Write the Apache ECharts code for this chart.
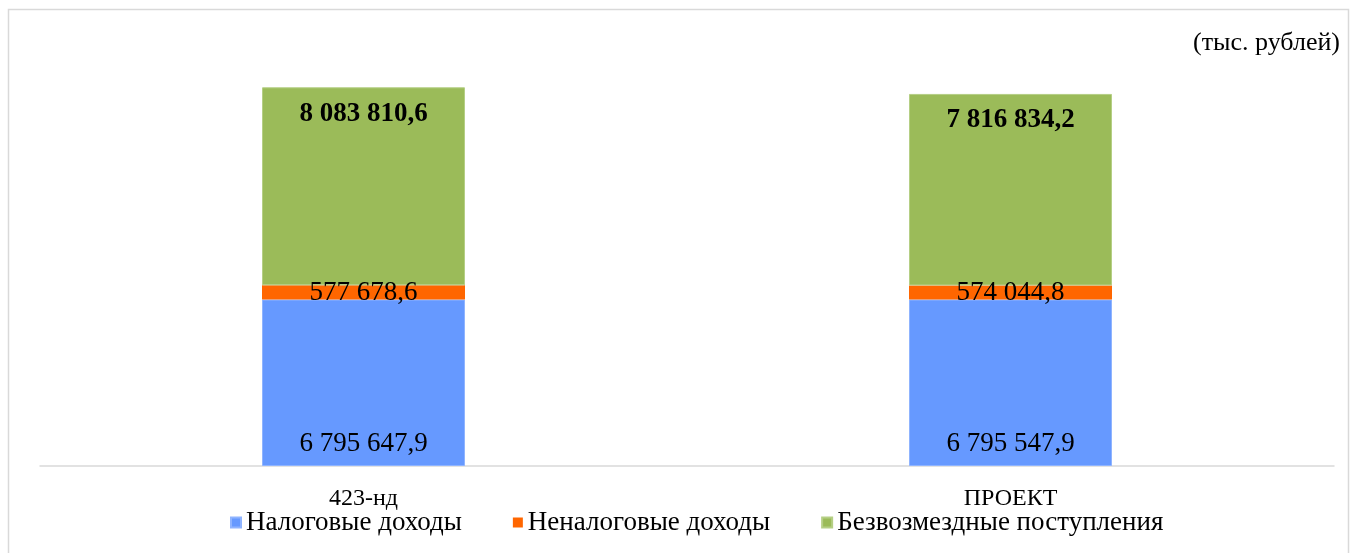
<!DOCTYPE html>
<html><head><meta charset="utf-8">
<script src="https://cdn.jsdelivr.net/npm/echarts@6/dist/echarts.min.js"></script>
<style>html,body{margin:0;padding:0;background:#fff}#c{width:1357px;height:553px}</style>
</head><body><div id="c"></div>
<script>
const categories = ['423-нд', 'ПРОЕКТ'];
const taxIncome = [6795647.9, 6795547.9];
const nonTaxIncome = [577678.6, 574044.8];
const grants = [8083810.6, 7816834.2];
const seriesNames = ['Налоговые доходы', 'Неналоговые доходы', 'Безвозмездные поступления'];
const unitLabel = '(тыс. рублей)';

const fmt = v => {
  const [i, d] = v.toFixed(1).split('.');
  return i.replace(/\B(?=(\d{3})+(?!\d))/g, ' ') + ',' + d;
};
const serif = '"Liberation Serif", "Times New Roman", serif';
const chart = echarts.init(document.getElementById('c'));
chart.setOption({
  animation: false,
  textStyle: { fontFamily: serif },
  graphic: [
    { type: 'rect', shape: { x: 8.5, y: 9.5, width: 1340, height: 560 }, style: { fill: 'none', stroke: '#d9d9d9', lineWidth: 1.5 } },
    { type: 'text', right: 17, top: 30, style: { text: unitLabel, font: '26px ' + serif, fill: '#000' } }
  ],
  grid: { left: 40, right: 23, top: 25, bottom: 87 },
  legend: {
    bottom: 12, left: 225, itemWidth: 10, itemHeight: 10, itemGap: 51,
    icon: 'rect',
    textStyle: { fontFamily: serif, fontSize: 27, color: '#000' },
    data: seriesNames
  },
  xAxis: {
    type: 'category', data: categories,
    axisLine: { lineStyle: { color: '#d9d9d9', width: 1.5 } },
    axisTick: { show: false },
    axisLabel: { fontFamily: serif, fontSize: 24, color: '#000', margin: 21 }
  },
  yAxis: { type: 'value', min: 0, max: 18000000, show: false, splitLine: { show: false } },
  series: [
    { name: seriesNames[0], type: 'bar', stack: 's', barWidth: 203, data: taxIncome,
      itemStyle: { color: '#6699ff', borderColor: '#8fb4ff', borderWidth: 1 },
      label: { show: true, position: 'insideBottom', distance: 9, formatter: p => fmt(p.value), fontFamily: serif, fontSize: 27, color: '#000' } },
    { name: seriesNames[1], type: 'bar', stack: 's', data: nonTaxIncome,
      itemStyle: { color: '#ff6600' },
      label: { show: true, position: 'inside', formatter: p => fmt(p.value), fontFamily: serif, fontSize: 27, color: '#000' } },
    { name: seriesNames[2], type: 'bar', stack: 's', data: grants,
      itemStyle: { color: '#9bbb59', borderColor: '#b5cf85', borderWidth: 1 },
      label: { show: true, position: 'insideTop', distance: 13, formatter: p => fmt(p.value), fontFamily: serif, fontSize: 27, fontWeight: 'bold', color: '#000' } }
  ]
});
</script></body></html>
